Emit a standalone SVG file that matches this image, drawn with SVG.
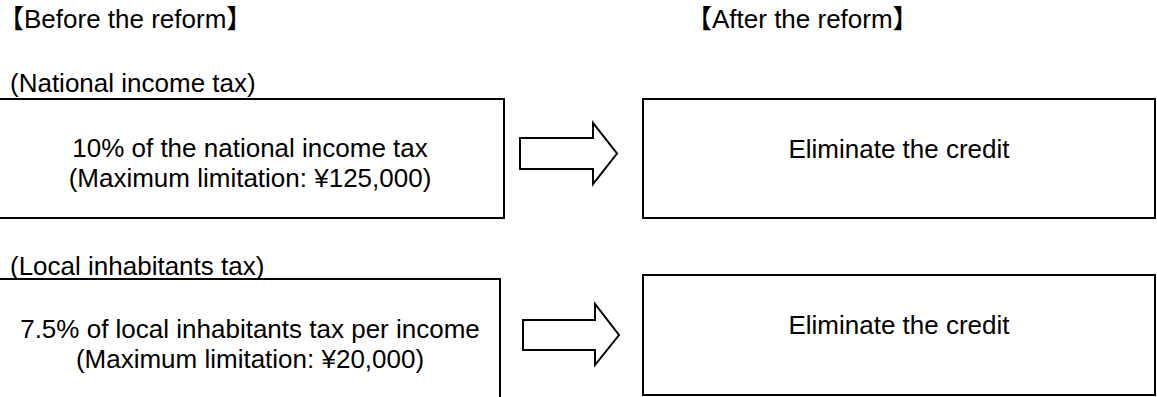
<svg xmlns="http://www.w3.org/2000/svg" width="1157" height="397" viewBox="0 0 1157 397">
<style>
text{font-family:"Liberation Sans","Noto Sans CJK JP",Arial,sans-serif;font-size:26px;fill:#000}
.c{text-anchor:middle}
.box{fill:#fff;stroke:#000;stroke-width:2}
.arrow{fill:#fff;stroke:#000;stroke-width:2;stroke-linejoin:miter}
</style>
<rect width="1157" height="397" fill="#fff"/>
<g id="headings">
<text x="-2" y="28">【Before the reform】</text>
<text x="686" y="28">【After the reform】</text>
</g>
<g id="before-national">
<rect class="box" x="-10" y="99" width="514" height="119"/>
<text x="10" y="92">(National income tax)</text>
<text class="c" x="250" y="157">10% of the national income tax</text>
<text class="c" x="250" y="187">(Maximum limitation: ¥125,000)</text>
</g>
<g id="before-local">
<rect class="box" x="-10" y="279" width="510" height="140"/>
<text x="10" y="275">(Local inhabitants tax)</text>
<text class="c" x="250" y="338">7.5% of local inhabitants tax per income</text>
<text class="c" x="250" y="368">(Maximum limitation: ¥20,000)</text>
</g>
<g id="after-national">
<rect class="box" x="643" y="99" width="512" height="119"/>
<text class="c" x="899" y="158">Eliminate the credit</text>
</g>
<g id="after-local">
<rect class="box" x="643" y="275" width="512" height="120"/>
<text class="c" x="899" y="334">Eliminate the credit</text>
</g>
<g id="connectors">
<polygon class="arrow" points="520,138 593,138 593,123 617,153.5 593,184 593,169 520,169"/>
<polygon class="arrow" points="523,320 595,320 595,304 619,335 595,365 595,350 523,350"/>
</g>
</svg>
